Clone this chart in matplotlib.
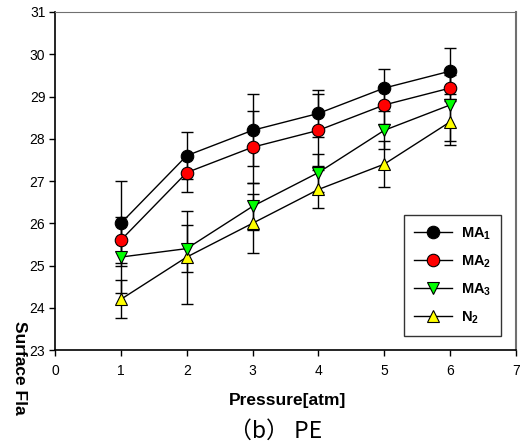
import numpy as np
import matplotlib
matplotlib.use('Agg')
import matplotlib.pyplot as plt

# data
pressure = [1, 2, 3, 4, 5, 6]

ma1 = [26.0, 27.6, 28.2, 28.6, 29.2, 29.6]
ma1_err = [1.0, 0.55, 0.85, 0.55, 0.45, 0.55]

ma2 = [25.6, 27.2, 27.8, 28.2, 28.8, 29.2]
ma2_err = [0.55, 0.45, 0.85, 0.85, 0.45, 0.3]

ma3 = [25.2, 25.4, 26.4, 27.2, 28.2, 28.8]
ma3_err = [0.85, 0.55, 0.55, 0.45, 0.45, 0.85]

n2 = [24.2, 25.2, 26.0, 26.8, 27.4, 28.4]
n2_err = [0.45, 1.1, 0.7, 0.45, 0.55, 0.55]

labels = ['MA$_\\mathbf{1}$', 'MA$_\\mathbf{2}$', 'MA$_\\mathbf{3}$', 'N$_\\mathbf{2}$']

plt.rcParams['font.family'] = 'sans-serif'
plt.rcParams['font.sans-serif'] = ['Liberation Sans', 'DejaVu Sans']
plt.rcParams['mathtext.fontset'] = 'custom'
plt.rcParams['mathtext.rm'] = 'Liberation Sans:bold'
plt.rcParams['mathtext.bf'] = 'Liberation Sans:bold'
plt.rcParams['mathtext.it'] = 'Liberation Sans:bold'

fig = plt.figure(figsize=(5.22, 4.46), dpi=100)
ax = fig.add_axes([0.1054, 0.2152, 0.8831, 0.7579])

series = [
    (ma1, ma1_err, 'o', 'black', 9),
    (ma2, ma2_err, 'o', 'red', 9),
    (ma3, ma3_err, 'v', '#00ff00', 8.5),
    (n2, n2_err, '^', 'yellow', 8.5),
]

for i, (y, err, mk, col, ms) in reversed(list(enumerate(series))):
    ax.errorbar(pressure, y, yerr=err, fmt='none', ecolor='black',
                elinewidth=1, capsize=4, capthick=1, zorder=2)
for i, (y, err, mk, col, ms) in reversed(list(enumerate(series))):
    ax.plot(pressure, y, color='black', lw=1, marker=mk, markersize=ms,
            markerfacecolor=col, markeredgecolor='black', markeredgewidth=0.8,
            label=labels[i], zorder=3)

ax.set_xlim(0, 7)
ax.set_ylim(23, 31)
ax.set_xticks(range(0, 8))
ax.set_yticks(range(23, 32))
ax.tick_params(direction='out', length=4, width=1, labelsize=10)
ax.tick_params(axis='y', pad=3)
ax.tick_params(axis='x', pad=6)

ax.spines['left'].set_linewidth(1.2)
ax.spines['bottom'].set_linewidth(1.2)
ax.spines['top'].set_color('#707070')
ax.spines['right'].set_color('#707070')
ax.spines['right'].set_linewidth(1.5)

handles, lbls = ax.get_legend_handles_labels()
order = [lbls.index(l) for l in labels]
leg = ax.legend([handles[k] for k in order], [lbls[k] for k in order],
                loc='lower right', bbox_to_anchor=(0.9675, 0.041), frameon=True,
                borderaxespad=0, fancybox=False, edgecolor='black',
                handlelength=2.6, labelspacing=0.8, borderpad=0.7,
                handletextpad=0.6, prop={'weight': 'bold', 'size': 10.5})
leg.get_frame().set_linewidth(1)

fig.text(0.55, 0.103, 'Pressure[atm]', ha='center', va='center',
         fontsize=12.5, fontweight='bold')
fig.text(0.038, 0.175, 'Surface Fla', ha='center', va='center',
         rotation=-90, fontsize=12.5, fontweight='bold')
fig.text(0.528, 0.032, '（b） PE', ha='center', va='center', fontsize=16.5,
         family=['Noto Sans CJK KR', 'DejaVu Sans'])

fig.savefig('out.png', dpi=100)
